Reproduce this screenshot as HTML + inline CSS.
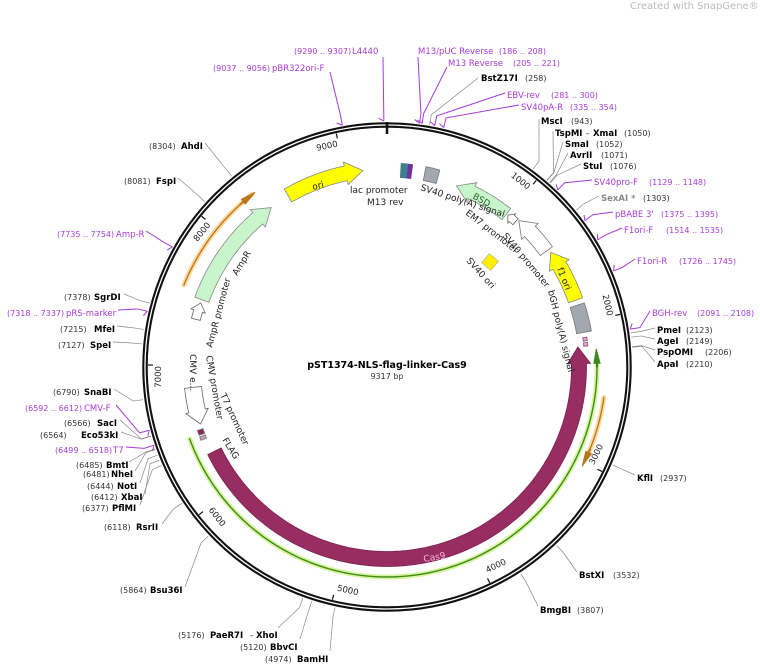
<!DOCTYPE html>
<html><head><meta charset="utf-8"><style>
html,body{margin:0;padding:0;background:#fff;width:760px;height:665px;overflow:hidden}
svg{display:block}
text{font-family:"DejaVu Sans","Liberation Sans",sans-serif;font-size:8.5px;fill:#222}
.b{font-weight:bold;fill:#000;font-size:8.5px}
.n{font-size:8px;fill:#333}
.p{fill:#a63bd6}
.g{fill:#888}
.f{font-size:9px;fill:#222}
</style></head><body>
<svg id="s" width="760" height="665" viewBox="0 0 760 665" xmlns="http://www.w3.org/2000/svg">
<g id="lines"></g>
<g id="feat"></g>
<text x="630" y="9" style="font-size:10px;fill:#bbb">Created with SnapGene®</text>

<text x="387" y="368" text-anchor="middle" class="b" style="font-size:9.5px">pST1374-NLS-flag-linker-Cas9</text>
<text x="387" y="379" text-anchor="middle" class="n">9317 bp</text>

<text x="294" y="54" class="n p">(9290 .. 9307)</text><text x="352" y="54" class="p">L4440</text>
<text x="213" y="71" class="n p">(9037 .. 9056)</text><text x="272" y="71" class="p">pBR322ori-F</text>
<text x="418" y="54" class="p">M13/pUC Reverse</text><text x="499" y="54" class="n p">(186 .. 208)</text>
<text x="448" y="66" class="p">M13 Reverse</text><text x="513" y="66" class="n p">(205 .. 221)</text>
<text x="481" y="81" class="b">BstZ17I</text><text x="525" y="81" class="n">(258)</text>
<text x="507" y="98" class="p">EBV-rev</text><text x="551" y="98" class="n p">(281 .. 300)</text>
<text x="521" y="110" class="p">SV40pA-R</text><text x="570" y="110" class="n p">(335 .. 354)</text>
<text x="541" y="124" class="b">MscI</text><text x="571" y="124" class="n">(943)</text>
<text x="555" y="136" class="b">TspMI</text><text x="586" y="136">-</text><text x="593" y="136" class="b">XmaI</text><text x="624" y="136" class="n">(1050)</text>
<text x="565" y="147" class="b">SmaI</text><text x="596" y="147" class="n">(1052)</text>
<text x="570" y="158" class="b">AvrII</text><text x="601" y="158" class="n">(1071)</text>
<text x="583" y="169" class="b">StuI</text><text x="610" y="169" class="n">(1076)</text>
<text x="594" y="185" class="p">SV40pro-F</text><text x="649" y="185" class="n p">(1129 .. 1148)</text>
<text x="601" y="201" class="b g">SexAI *</text><text x="643" y="201" class="n">(1303)</text>
<text x="615" y="217" class="p">pBABE 3'</text><text x="661" y="217" class="n p">(1375 .. 1395)</text>
<text x="624" y="233" class="p">F1ori-F</text><text x="666" y="233" class="n p">(1514 .. 1535)</text>
<text x="637" y="264" class="p">F1ori-R</text><text x="679" y="264" class="n p">(1726 .. 1745)</text>
<text x="652" y="316" class="p">BGH-rev</text><text x="697" y="316" class="n p">(2091 .. 2108)</text>
<text x="657" y="333" class="b">PmeI</text><text x="686" y="333" class="n">(2123)</text>
<text x="657" y="344" class="b">AgeI</text><text x="686" y="344" class="n">(2149)</text>
<text x="657" y="355" class="b">PspOMI</text><text x="705" y="355" class="n">(2206)</text>
<text x="657" y="367" class="b">ApaI</text><text x="686" y="367" class="n">(2210)</text>
<text x="637" y="481" class="b">KflI</text><text x="660" y="481" class="n">(2937)</text>
<text x="579" y="578" class="b">BstXI</text><text x="613" y="578" class="n">(3532)</text>
<text x="540" y="613" class="b">BmgBI</text><text x="577" y="613" class="n">(3807)</text>
<text x="265" y="662" class="n">(4974)</text><text x="297" y="662" class="b">BamHI</text>
<text x="240" y="650" class="n">(5120)</text><text x="270" y="650" class="b">BbvCI</text>
<text x="178" y="638" class="n">(5176)</text><text x="210" y="638" class="b">PaeR7I</text><text x="250" y="638">-</text><text x="256" y="638" class="b">XhoI</text>
<text x="120" y="593" class="n">(5864)</text><text x="150" y="593" class="b">Bsu36I</text>
<text x="104" y="530" class="n">(6118)</text><text x="136" y="530" class="b">RsrII</text>
<text x="82" y="511" class="n">(6377)</text><text x="112" y="511" class="b">PflMI</text>
<text x="91" y="500" class="n">(6412)</text><text x="121" y="500" class="b">XbaI</text>
<text x="87" y="489" class="n">(6444)</text><text x="117" y="489" class="b">NotI</text>
<text x="83" y="477" class="n">(6481)</text><text x="111" y="477" class="b">NheI</text>
<text x="76" y="468" class="n">(6485)</text><text x="106" y="468" class="b">BmtI</text>
<text x="55" y="453" class="n p">(6499 .. 6518)</text><text x="113" y="453" class="p">T7</text>
<text x="40" y="438" class="n">(6564)</text><text x="81" y="438" class="b">Eco53kI</text>
<text x="64" y="426" class="n">(6566)</text><text x="97" y="426" class="b">SacI</text>
<text x="25" y="411" class="n p">(6592 .. 6612)</text><text x="84" y="411" class="p">CMV-F</text>
<text x="53" y="395" class="n">(6790)</text><text x="84" y="395" class="b">SnaBI</text>
<text x="58" y="348" class="n">(7127)</text><text x="90" y="348" class="b">SpeI</text>
<text x="60" y="332" class="n">(7215)</text><text x="94" y="332" class="b">MfeI</text>
<text x="7" y="316" class="n p">(7318 .. 7337)</text><text x="66" y="316" class="p">pRS-marker</text>
<text x="64" y="300" class="n">(7378)</text><text x="94" y="300" class="b">SgrDI</text>
<text x="57" y="237" class="n p">(7735 .. 7754)</text><text x="116" y="237" class="p">Amp-R</text>
<text x="124" y="184" class="n">(8081)</text><text x="156" y="184" class="b">FspI</text>
<text x="149" y="149" class="n">(8304)</text><text x="181" y="149" class="b">AhdI</text>

<text class="f" transform="translate(313,190) rotate(-14)">ori</text>
<text class="f" x="350" y="193">lac promoter</text>
<text class="f" x="367" y="205">M13 rev</text>
<text class="f" transform="translate(420,190) rotate(18)">SV40 poly(A) signal</text>
<text class="f" transform="translate(472,198) rotate(30)" style="fill:#2a6a2a">BSD</text>
<text class="f" transform="translate(465,214) rotate(38)">EM7 promoter</text>
<text class="f" transform="translate(502,236) rotate(50)">SV40 promoter</text>
<text class="f" transform="translate(466,261) rotate(48)">SV40 ori</text>
<text class="f" transform="translate(557,269) rotate(68)">f1 ori</text>
<text class="f" transform="translate(548,291) rotate(76)">bGH poly(A) signal</text>
<text class="f" transform="translate(237,276) rotate(-58)">AmpR</text>
<text class="f" transform="translate(212,348) rotate(-75)">AmpR promoter</text>
<text class="f" transform="translate(190,354) rotate(90)">CMV e...</text>
<text class="f" transform="translate(206,356) rotate(80)">CMV promoter</text>
<text class="f" transform="translate(220,395) rotate(65)">T7 promoter</text>
<text class="f" transform="translate(222,440) rotate(58)">FLAG</text>
<text class="f" transform="translate(424,562) rotate(-10)" style="fill:#f4b8d8">Cas9</text>
<g id="ticks"></g>
</svg>
<script>
const NS="http://www.w3.org/2000/svg",cx=387,cy=367,L=9317;
const A=p=>p/L*360;
function P(r,t){const a=t*Math.PI/180;return [cx+r*Math.sin(a),cy-r*Math.cos(a)];}
function el(g,tag,at){const e=document.createElementNS(NS,tag);for(const k in at)e.setAttribute(k,at[k]);document.getElementById(g).appendChild(e);return e;}
function arcPts(r,t1,t2){const pts=[];const n=Math.max(2,Math.ceil(Math.abs(t2-t1)));for(let i=0;i<=n;i++)pts.push(P(r,t1+(t2-t1)*i/n));return pts;}
function arrow(r,w,t1,t2,dir,hd,hw,fill,stroke){
 let pts=[];const ro=r+w/2,ri=r-w/2;
 if(dir==1){pts=pts.concat(arcPts(ro,t1,t2-hd));pts.push(P(ro+hw,t2-hd),P(r,t2),P(ri-hw,t2-hd));pts=pts.concat(arcPts(ri,t2-hd,t1));}
 else if(dir==-1){pts=pts.concat(arcPts(ro,t2,t1+hd));pts.push(P(ro+hw,t1+hd),P(r,t1),P(ri-hw,t1+hd));pts=pts.concat(arcPts(ri,t1+hd,t2));}
 else{pts=arcPts(ro,t1,t2).concat(arcPts(ri,t2,t1));}
 el("feat","polygon",{points:pts.map(p=>p[0].toFixed(1)+","+p[1].toFixed(1)).join(" "),fill:fill,stroke:stroke||"#777","stroke-width":0.8});
}
function arcLine(r,t1,t2,col,wd,g){el(g||"feat","polyline",{points:arcPts(r,t1,t2).map(p=>p.join(",")).join(" "),fill:"none",stroke:col,"stroke-width":wd,"stroke-linecap":"round"});}
el("feat","circle",{cx:cx,cy:cy,r:242,fill:"none",stroke:"#111","stroke-width":5.5});
el("feat","circle",{cx:cx,cy:cy,r:242,fill:"none",stroke:"#fff","stroke-width":1.3});
let t=P(245,0),t2=P(233,0);el("feat","line",{x1:t[0],y1:t[1],x2:t2[0],y2:t2[1],stroke:"#111","stroke-width":2.5});
for(let k=1;k<=9;k++){const th=A(k*1000);const a=P(239,th),b=P(234,th);el("feat","line",{x1:a[0],y1:a[1],x2:b[0],y2:b[1],stroke:"#111","stroke-width":1.2});
 const top=(th<90||th>270);const q=top?P(226,th):P(229,th);const rot=top?th:th-180;
 const tx=el("ticks","text",{transform:`translate(${q[0].toFixed(1)},${q[1].toFixed(1)}) rotate(${rot.toFixed(1)})`,"text-anchor":top?"end":"start",style:"font-size:8.5px;fill:#222"});tx.textContent=(k*1000)+"";
 if(top)tx.setAttribute("dx","-1");else tx.setAttribute("dx","2");}
const LL=[[9298,383,57,1],[9046,330,72,1],[197,418,57,1],[213,447,67,1],[258,478,78,0],[290,505,93,1],[345,519,105,1],[943,539,119,0],[1050,553,131,0],[1052,563,142,0],[1071,568,153,0],[1076,581,164,0],[1138,592,180,1],[1303,599,196,0],[1385,613,212,1],[1524,622,228,1],[1735,635,259,1],[2100,650,311,1],[2123,655,328,0],[2149,655,339,0],[2206,655,350,0],[2210,655,362,0],[2937,635,475,0],[3532,577,572,0],[3807,538,606,0],[4974,330,651,0],[5120,300,639,0],[5176,278,628,0],[5864,185,587,0],[6118,162,524,0],[6377,140,505,0],[6412,145,494,0],[6444,140,483,0],[6481,135,471,0],[6485,129,462,0],[6508,126,447,1],[6564,121,432,0],[6566,120,420,0],[6602,116,405,1],[6790,114,389,0],[7127,113,342,0],[7215,117,326,0],[7327,118,310,1],[7378,124,294,0],[7744,146,231,1],[8081,178,178,0],[8304,205,143,0]];
for(const [p,x,y,pr] of LL){const th=A(p);const a=P(246,th),m=P(256,th);const col=pr?"#a63bd6":"#888";
 el("lines","polyline",{points:`${a[0]},${a[1]} ${m[0]},${m[1]} ${x},${y}`,fill:"none",stroke:col,"stroke-width":pr?1:0.7});
 if(pr){const h=P(249,th-1.2);el("lines","line",{x1:a[0],y1:a[1],x2:h[0],y2:h[1],stroke:col,"stroke-width":1});}}
arcLine(219,292,322,"#ffd9a0",5);arcLine(219,292,322,"#b8761a",1.3);
arrow(219,1.3,318,323,1,4,2.5,"#b8761a","#b8761a");
arcLine(219,98,114,"#ffd9a0",5);arcLine(219,98,114,"#b8761a",1.3);
arrow(219,1.3,112,117,1,4,2.5,"#b8761a","#b8761a");
arcLine(210,88,250,"#d8f5a0",5);arcLine(210,88,250,"#3f8a1a",1.4);
arrow(210,1.4,85,90,-1,4,2.5,"#3f8a1a","#3f8a1a");
arrow(192,15,84,244,-1,5,4,"#982d62","#7a2050");
arrow(198,15,330,353,1,5,4,"#ffff00","#888");
arrow(197,15,290,324,1,5,4,"#c9f5cc","#888");
arrow(197,9,284,289,1,2.5,3,"#fff","#666");
arrow(194,14,21,38,-1,5,4,"#c9f5cc","#888");
arrow(194,8,38.5,41.5,-1,1.5,2,"#fff","#666");
arrow(197,15,42,54,-1,4.5,4,"#fff","#777");
arrow(200,15,55,70.5,-1,4.5,4,"#ffff00","#888");
arrow(200,15,72,80,0,0,0,"#a3a7b0","#777");
arrow(200,4,81.5,82.5,0,0,0,"#e3a6c6","#8a5070");
arrow(200,4,83,84,0,0,0,"#e3a6c6","#8a5070");
arrow(195,17,253,264,-1,4,3,"#fff","#666");
arrow(197,14,11,15,0,0,0,"#a3a7b0","#777");
arrow(197,14,4,5.8,0,0,0,"#3f7f8a","#3f7f8a");
arrow(197,14,6,7.2,0,0,0,"#7030a0","#7030a0");
arrow(197,6,248.5,249.5,0,0,0,"#c8a0b0","#777");
arrow(197,6,250,251.5,0,0,0,"#8a2a58","#777");
el("feat","rect",{x:-6,y:-6,width:12,height:12,fill:"#ffee00",stroke:"#aaa","stroke-width":0.6,transform:"translate(490,262) rotate(40)"});
</script>
</body></html>
